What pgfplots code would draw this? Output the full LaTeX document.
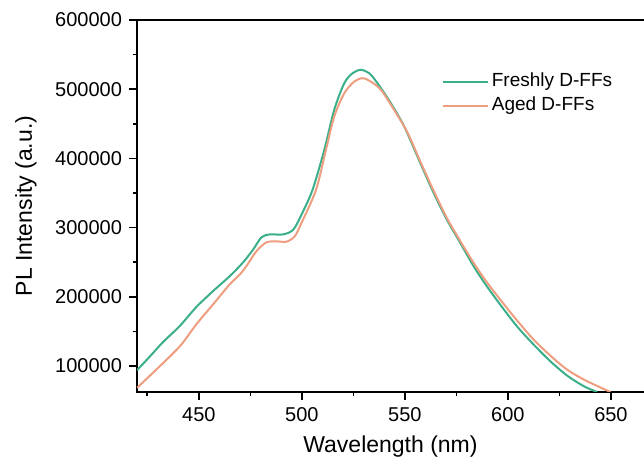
\documentclass[border=0pt]{standalone}
\usepackage{fontspec}
\setmainfont{Liberation Sans}
\usepackage{pgfplots}
\pgfplotsset{compat=1.18}

\definecolor{freshgreen}{RGB}{58,175,137}
\definecolor{agedorange}{RGB}{238,158,128}

\begin{document}
\begin{tikzpicture}
\begin{axis}[
    name=ax,
    scale only axis,
    width=255pt, height=186pt,
    xmin=420, xmax=667.5,
    ymin=62500, ymax=600000,
    axis line style={line width=0.9pt},
    xtick pos=bottom, ytick pos=left,
    tick align=outside,
    major tick length=4pt, minor tick length=2.2pt,
    tick style={black, line width=0.8pt},
    xtick={450,500,...,650}, minor xtick={425,475,...,675},
    ytick={100000,200000,...,600000}, minor ytick={150000,250000,...,550000},
    scaled y ticks=false,
    yticklabel style={/pgf/number format/fixed, /pgf/number format/1000 sep={}},
    /pgf/number format/assume math mode=true,
    tick label style={font=\fontsize{10}{12}\selectfont},
    xlabel={Wavelength (nm)},
    ylabel={PL Intensity (a.u.)},
    label style={font=\fontsize{11.5}{13}\selectfont},
    xlabel style={at={(axis description cs:0.497,-0.148)}, anchor=center},
    ylabel style={at={(axis description cs:-0.2176,0.5)}, anchor=center},
    legend cell align=left,
    legend image code/.code={\draw[#1] (0pt,0pt) -- (22.5pt,0pt);},
    legend style={draw=none, fill=none, at={(axis description cs:0.597,0.868)},
        anchor=north west, inner sep=0pt, row sep=0pt,
        font=\fontsize{9.5}{11}\selectfont,
        nodes={inner sep=1.5pt, text height=7pt, text depth=2pt}},
]
\addplot[color=freshgreen, line width=1pt, smooth] coordinates {
(420,94000) (426,113000) (432.6,134500) (440.8,158000) (448.7,185000)
(456.8,208000) (464.9,229600) (471.4,249500) (476.3,268100) (480.4,286000)
(484.4,290200) (490.9,290200) (495.8,297000) (499.8,318600) (505.2,354700)
(510.9,412400) (515.7,470100) (520.6,508700) (524.6,523100) (528.6,527900)
(532.7,523100) (536.7,508700) (543.2,479800) (549.7,446000) (557.5,393200)
(564,349900) (570.4,311400) (576.9,277800) (583.4,244000) (589.8,215200)
(596.3,188700) (604.4,157400) (612.5,131000) (620.6,106900) (628.7,86300)
(636.8,70900) (643.3,62500)
};
\addlegendentry{Freshly D-FFs}
\addplot[color=agedorange, line width=1pt, smooth] coordinates {
(420,68500) (429.4,94950) (440.8,128600) (448.7,159900) (456.8,188700)
(464.9,217600) (469.8,232000) (473,244000) (477.9,265700) (482.7,278600)
(487.6,280100) (492.5,279700) (496.5,287300) (499.8,306600) (506.9,354700)
(511.7,412400) (515.7,460500) (520.6,494200) (525.4,511000) (529.5,515900)
(533.5,511000) (538.4,499000) (544.8,470100) (551.4,436500) (557.5,395500)
(564,353000) (570.4,313800) (576.9,280500) (583.4,248900) (589.8,221000)
(596.3,196000) (604.4,166000) (612.5,138200) (620.6,115000) (628.7,94950)
(636.8,80500) (645.3,68500) (649.8,62500)
};
\addlegendentry{Aged D-FFs}
\end{axis}
% overlay axis that only carries the longer tick marks
\begin{axis}[
    scale only axis,
    width=255pt, height=186pt,
    xmin=420, xmax=667.5,
    ymin=62500, ymax=600000,
    separate axis lines,
    every outer x axis line/.append style={draw=none},
    every outer y axis line/.append style={draw=none},
    xtick pos=bottom, ytick pos=left,
    tick align=outside,
    minor tick length=4pt,
    tick style={black, line width=0.8pt},
    xtick=\empty, ytick=\empty,
    minor xtick={450,500,...,650},
    minor ytick={100000,200000,...,600000},
]
\end{axis}
\pgfresetboundingbox
\path ([xshift=-68.5pt,yshift=-37pt]ax.south west) rectangle ([xshift=-1.5pt,yshift=10pt]ax.north east);
\end{tikzpicture}
\end{document}
